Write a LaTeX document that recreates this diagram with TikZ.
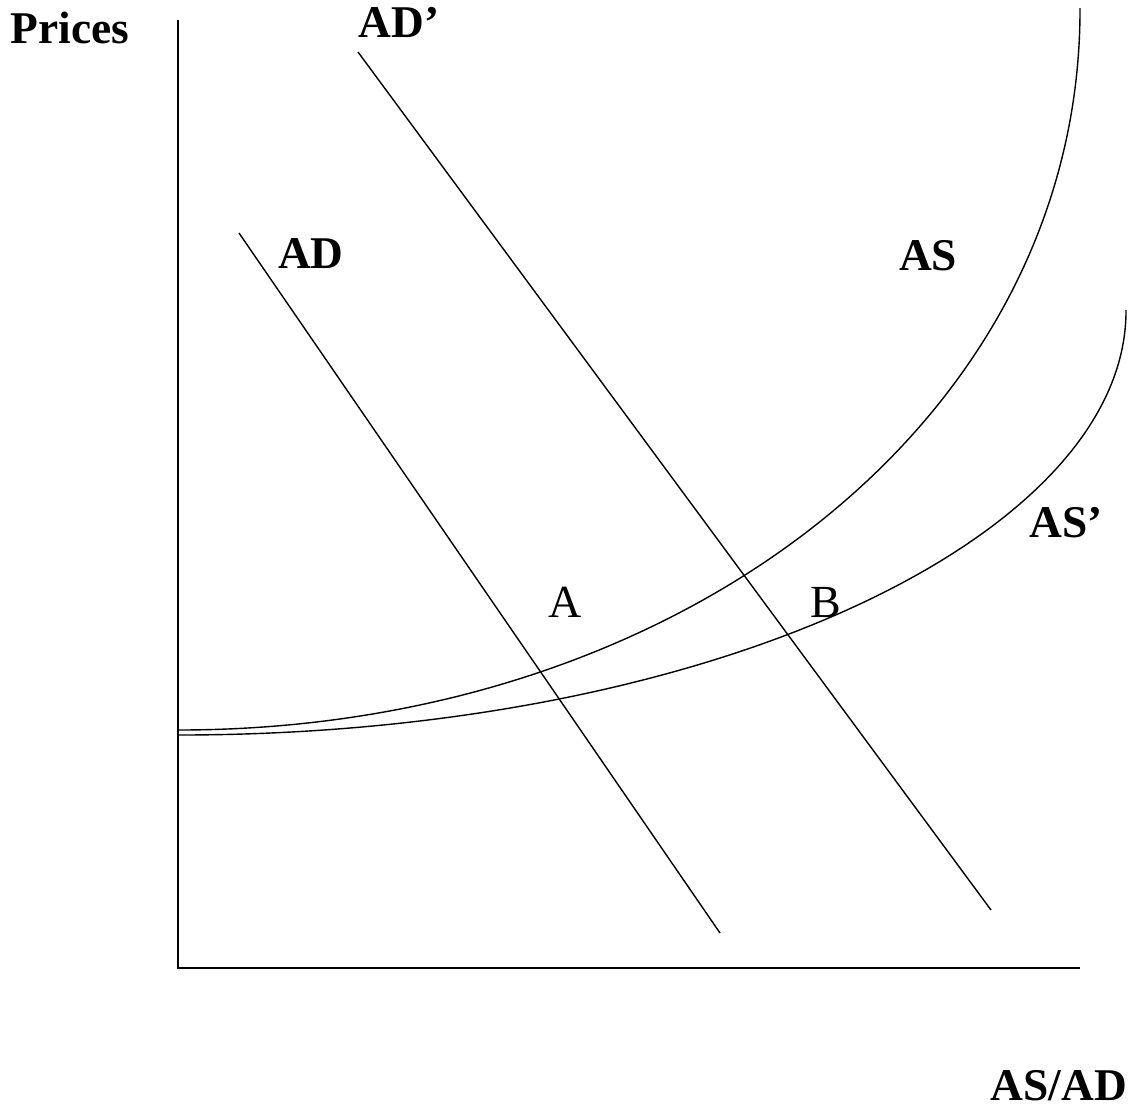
\documentclass[tikz,border=0pt]{standalone}
\usepackage{fontspec}
\setmainfont{Liberation Serif}
\begin{document}
\begin{tikzpicture}[x=0.5pt,y=-0.5pt,
  curve/.style={line width=0.7pt,black},
  boldlbl/.style={font=\fontsize{22.7}{26}\selectfont\bfseries,inner sep=0pt},
  ptlbl/.style={font=\fontsize{23}{27}\selectfont,inner sep=0pt}]
\useasboundingbox (0,0) rectangle (1133,1109);
% axes
\coordinate (ytop) at (178,20);
\coordinate (origin) at (178,968);
\coordinate (xend) at (1080,968);
\draw[curve] (ytop) -- (origin) -- (xend);
% AD curves
\coordinate (ad1) at (239,233);
\coordinate (ad2) at (720,933);
\draw[curve] (ad1) -- (ad2);
\coordinate (adp1) at (358,52);
\coordinate (adp2) at (991,910);
\draw[curve] (adp1) -- (adp2);
% AS curves
\coordinate (as1) at (178,730);
\coordinate (as2) at (1080,8);
\draw[curve] (as1) .. controls (680,730) and (1081,420) .. (as2);
\coordinate (asp1) at (178,735);
\coordinate (asp2) at (1126,310);
\draw[curve] (asp1) .. controls (715,735) and (1127,535) .. (asp2);
% labels
\node[boldlbl] (prices) at (70,28) {Prices};
\node[boldlbl] (adplbl) at (399,22) {AD’};
\node[boldlbl] (adlbl) at (311,254) {AD};
\node[boldlbl] (aslbl) at (928,256) {AS};
\node[boldlbl] (asplbl) at (1066,523) {AS’};
\node[ptlbl] (A) at (565,602) {A};
\node[ptlbl] (B) at (826,602) {B};
\node[boldlbl] (xlbl) at (1059,1086) {AS/AD};
\end{tikzpicture}
\end{document}
